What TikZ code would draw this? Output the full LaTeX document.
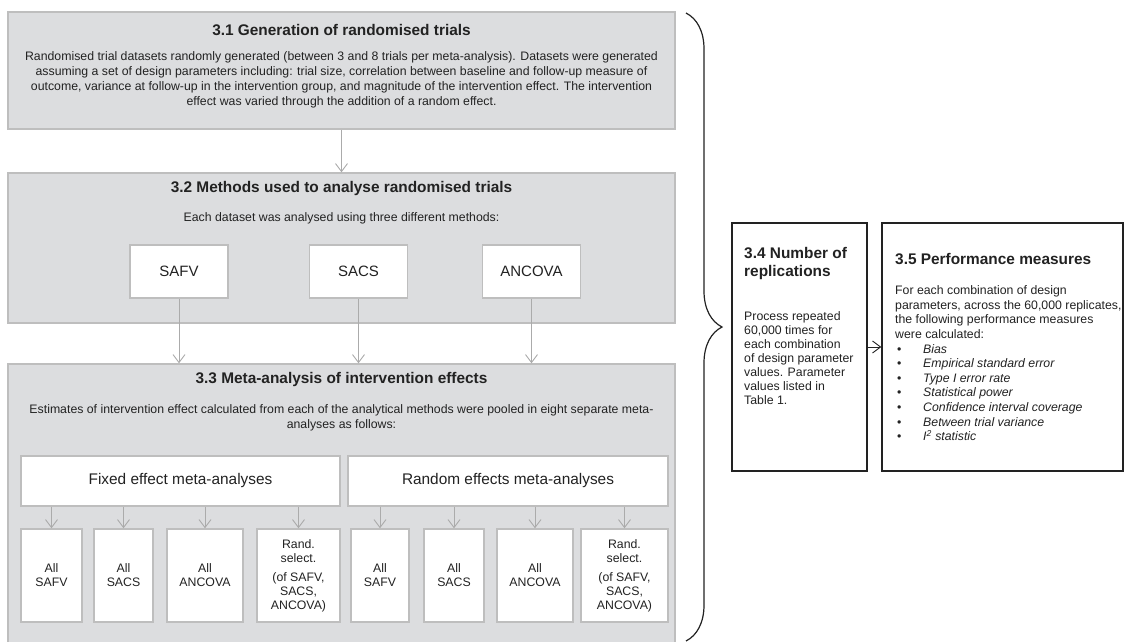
\documentclass[tikz,border=0pt]{standalone}
\usepackage{fontspec}
\setmainfont{Liberation Sans}
\usetikzlibrary{arrows.meta}
\usetikzlibrary{decorations.pathreplacing}

\definecolor{panelgray}{HTML}{DCDDDF}
\definecolor{edgegray}{HTML}{BEBEBE}
\definecolor{arrowgray}{HTML}{ABABAB}
\definecolor{inkgray}{HTML}{222222}

\newcommand{\headfont}{\fontsize{15.4}{18}\selectfont}
\newcommand{\bodyfont}{\fontsize{12.3}{14}\selectfont}
\newcommand{\bul}{\makebox[28pt][l]{\hspace{2pt}\textbullet}}

\begin{document}
\begin{tikzpicture}[x=1pt,y=-1pt,
    every node/.style={text=inkgray},
    stage/.style={draw=edgegray,fill=panelgray,line width=1.4pt,inner sep=0pt,minimum width=667},
    method/.style={draw=edgegray,fill=white,line width=1.4pt,inner sep=0pt,minimum width=98,minimum height=53,font=\fontsize{15}{18}\selectfont},
    pool/.style={draw=edgegray,fill=white,line width=1.4pt,inner sep=0pt,minimum height=50,font=\headfont},
    arm/.style={draw=edgegray,fill=white,line width=1.4pt,inner sep=0pt,minimum height=93,align=center,font=\bodyfont},
    outline/.style={draw=inkgray,fill=white,line width=1.5pt,inner sep=0pt,minimum height=248},
    stitle/.style={inner sep=0pt,font=\headfont\bfseries},
    stext/.style={inner sep=0pt,align=center,font=\bodyfont},
    sidetext/.style={anchor=north west,inner sep=0pt,align=left,font=\bodyfont},
    flow/.style={draw=arrowgray,line width=0.9pt,-{Straight Barb[length=8pt,width=12pt]}},
  ]
    \useasboundingbox (0,0) rectangle (1124,642);

    % Place the stages
    \node[stage,minimum height=117] (gen)  at (341.5,70.5) {};
    \node[stage,minimum height=150] (meth) at (341.5,248) {};
    \node[stage,minimum height=296] (meta) at (341.5,512) {};

    \node[stitle] (gentitle) at (341.5,30) {3.1 Generation of randomised trials};
    \node[stext,font=\fontsize{12.3}{15}\selectfont] (gentext) at (341.5,80) {Randomised trial datasets randomly generated (between 3 and 8 trials per meta-analysis). Datasets were generated\\
      assuming a set of design parameters including: trial size, correlation between baseline and follow-up measure of\\
      outcome, variance at follow-up in the intervention group, and magnitude of the intervention effect. The intervention\\
      effect was varied through the addition of a random effect.};

    \node[stitle] (methtitle) at (341.5,189) {3.2 Methods used to analyse randomised trials};
    \node[stext] (methtext) at (341.5,218) {Each dataset was analysed using three different methods:};
    \node[method] (safv)   at (179,271.5)   {SAFV};
    \node[method] (sacs)   at (358.5,271.5) {SACS};
    \node[method] (ancova) at (531.5,271.5) {ANCOVA};

    \node[stitle] (metatitle) at (341.5,380) {3.3 Meta-analysis of intervention effects};
    \node[stext,font=\fontsize{12.3}{15}\selectfont] (metatext) at (341.5,418) {Estimates of intervention effect calculated from each of the analytical methods were pooled in eight separate meta-\\
      analyses as follows:};
    \node[pool,minimum width=319] (fixed)  at (180.5,481) {Fixed effect meta-analyses};
    \node[pool,minimum width=320] (random) at (508,481)   {Random effects meta-analyses};

    \node[arm,minimum width=61] (fsafv)   at (51.5,575.5)  {All\\SAFV};
    \node[arm,minimum width=59] (fsacs)   at (123.5,575.5) {All\\SACS};
    \node[arm,minimum width=76] (fancova) at (205,575.5)   {All\\ANCOVA};
    \node[arm,minimum width=83] (frand)   at (298.5,575.5) {Rand.\\select.\\[5pt](of SAFV,\\SACS,\\ANCOVA)};
    \node[arm,minimum width=58] (rsafv)   at (380,575.5)   {All\\SAFV};
    \node[arm,minimum width=60] (rsacs)   at (454,575.5)   {All\\SACS};
    \node[arm,minimum width=76] (rancova) at (535,575.5)   {All\\ANCOVA};
    \node[arm,minimum width=87] (rrand)   at (624.5,575.5) {Rand.\\select.\\[5pt](of SAFV,\\SACS,\\ANCOVA)};

    % The two boxes on the right
    \node[outline,minimum width=135] (rep)  at (799.5,347)  {};
    \node[outline,minimum width=241] (perf) at (1002.5,347) {};

    \node[sidetext,font=\headfont\bfseries] (reptitle) at (744,247) {3.4 Number of\\replications};
    \node[sidetext] (reptext) at (744,311.5) {Process repeated\\60,000 times for\\each combination\\of design parameter\\values. Parameter\\values listed in\\Table 1.};
    \node[sidetext,font=\headfont\bfseries] (perftitle) at (895,253) {3.5 Performance measures};
    \node[sidetext,font=\fontsize{12.3}{14.6}\selectfont] (perftext) at (895,285.5) {For each combination of design\\
      parameters, across the 60,000 replicates,\\
      the following performance measures\\
      were calculated:\\
      \bul\textit{Bias}\\
      \bul\textit{Empirical standard error}\\
      \bul\textit{Type I error rate}\\
      \bul\textit{Statistical power}\\
      \bul\textit{Confidence interval coverage}\\
      \bul\textit{Between trial variance}\\
      \bul\textit{I\textsuperscript{2} statistic}};

    % Draw the arrows
    \draw[flow] (gen) -- (meth);
    \draw[flow] (safv.south)   -- (safv.south |- meta.north);
    \draw[flow] (sacs.south)   -- (sacs.south |- meta.north);
    \draw[flow] (ancova.south) -- (ancova.south |- meta.north);

    \draw[flow] (fsafv.north |- fixed.south)    -- (fsafv.north);
    \draw[flow] (fsacs.north |- fixed.south)    -- (fsacs.north);
    \draw[flow] (fancova.north |- fixed.south)  -- (fancova.north);
    \draw[flow] (frand.north |- fixed.south)    -- (frand.north);
    \draw[flow] (rsafv.north |- random.south)   -- (rsafv.north);
    \draw[flow] (rsacs.north |- random.south)   -- (rsacs.north);
    \draw[flow] (rancova.north |- random.south) -- (rancova.north);
    \draw[flow] (rrand.north |- random.south)   -- (rrand.north);

    \draw[flow,draw=inkgray] (rep) -- (perf);

    % Finally the brace
    \coordinate (bracetop) at (686,13);
    \coordinate (bracebot) at (686,641);
    \draw[inkgray,line width=1.2pt,decorate,decoration={brace,amplitude=36pt}] (bracetop) -- (bracebot);

\end{tikzpicture}
\end{document}
